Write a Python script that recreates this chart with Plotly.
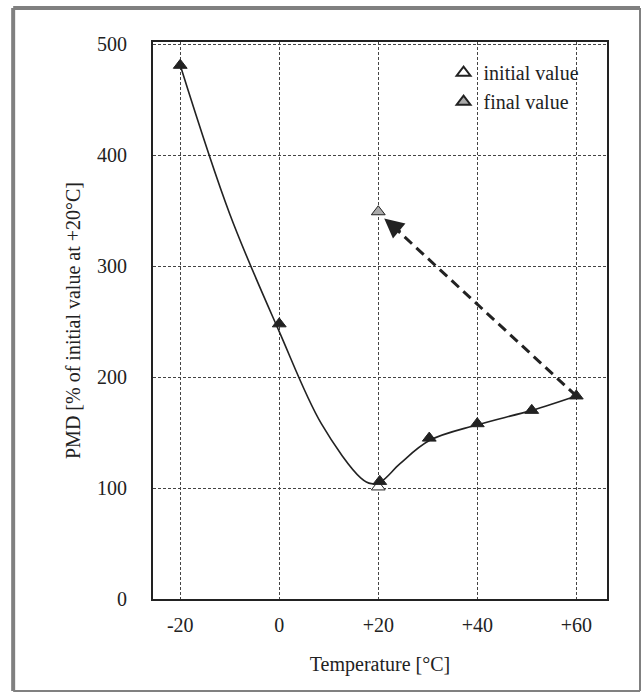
import plotly.graph_objects as go

# Data: measured points
point_x = [-20, 0, 20.3, 30.3, 40, 51, 60]
point_y = [481, 248, 106, 145, 158, 170, 183]
# smooth fitted curve
line_x = [-20, -10, 0, 8.5, 16.5, 18.6, 20.6, 24.4, 30.4, 40, 51, 60]
line_y = [481, 347, 241, 158, 109, 104, 106, 122, 143, 157, 170, 183]
initial_x = [20]
initial_y = [101]
final_x = [20]
final_y = [349]
arrow_from = (60, 183)
arrow_to = (21.2, 343)
x_ticks = [-20, 0, 20, 40, 60]
x_tick_labels = ["-20", "0", "+20", "+40", "+60"]
y_ticks = [0, 100, 200, 300, 400, 500]

FONT = "Liberation Serif"
INK = "#222222"
fnt = lambda s: dict(family=FONT, size=s, color=INK)

fig = go.Figure()

# dashed arrow line
fig.add_trace(go.Scatter(
    x=[arrow_from[0], arrow_to[0] + 2.5], y=[arrow_from[1], arrow_to[1] - 10],
    mode="lines", line=dict(color=INK, width=3, dash="10px,6px"),
    showlegend=False, hoverinfo="skip"))

# smooth curve
fig.add_trace(go.Scatter(
    x=line_x, y=line_y, mode="lines",
    line=dict(color=INK, width=1.6, shape="spline", smoothing=1.0),
    showlegend=False, hoverinfo="skip"))

# initial value (open triangle)
fig.add_trace(go.Scatter(
    x=initial_x, y=initial_y, mode="markers", name="initial value",
    marker=dict(symbol="triangle-up", size=12, color="white",
                line=dict(color=INK, width=1))))

# curve markers (black)
fig.add_trace(go.Scatter(
    x=point_x, y=point_y, mode="markers", showlegend=False,
    marker=dict(symbol="triangle-up", size=12, color=INK,
                line=dict(color=INK, width=1))))

# final value (gray triangle)
fig.add_trace(go.Scatter(
    x=final_x, y=final_y, mode="markers", name="final value",
    marker=dict(symbol="triangle-up", size=12, color="#aaaaaa",
                line=dict(color=INK, width=1))))

# arrowhead
fig.add_annotation(
    x=arrow_to[0], y=arrow_to[1], ax=arrow_to[0] + 3.5, ay=arrow_to[1] - 13,
    xref="x", yref="y", axref="x", ayref="y", text="",
    showarrow=True, arrowhead=2, arrowsize=1.3, arrowwidth=3, arrowcolor=INK)

# outer gray frame
L, R, T, B = -0.308, 1.0727, 1.061, -0.165
for x0, x1, y0, y1, w in [(L, L, B, T, 4), (L, R, T, T, 4), (R, R, B, T, 2), (L, R, B, B, 2)]:
    fig.add_shape(type="line", xref="paper", yref="paper", x0=x0, x1=x1, y0=y0, y1=y1,
                  line=dict(color="#808080", width=w))

fig.update_layout(
    width=643, height=693,
    margin=dict(l=153, r=36, t=42, b=94),
    paper_bgcolor="white", plot_bgcolor="white",
    font=fnt(20),
    legend=dict(x=0.64, y=0.98, xanchor="left", yanchor="top",
                bgcolor="rgba(0,0,0,0)", font=fnt(20),
                itemsizing="constant", tracegroupgap=0),
    xaxis=dict(range=[-25.5, 66.2], tickvals=x_ticks, ticktext=x_tick_labels,
               tickfont=fnt(20),
               showgrid=True, gridcolor="#444444", gridwidth=1, griddash="3px,2px",
               showline=True, linecolor=INK, linewidth=2, mirror=True,
               ticks="", zeroline=False, ticklabelstandoff=7,
               title=dict(text="Temperature [°C]", standoff=22, font=fnt(20))),
    yaxis=dict(range=[0, 502], tickvals=y_ticks, tickfont=fnt(20),
               showgrid=True, gridcolor="#444444", gridwidth=1, griddash="3px,2px",
               showline=True, linecolor=INK, linewidth=2, mirror=True,
               ticks="", zeroline=False, ticklabelstandoff=20,
               title=dict(text="PMD [% of initial value at +20°C]", standoff=11, font=fnt(20))),
)

fig.write_html("out.html", config={"displayModeBar": False},
               post_script="document.body.style.margin='0px';")
